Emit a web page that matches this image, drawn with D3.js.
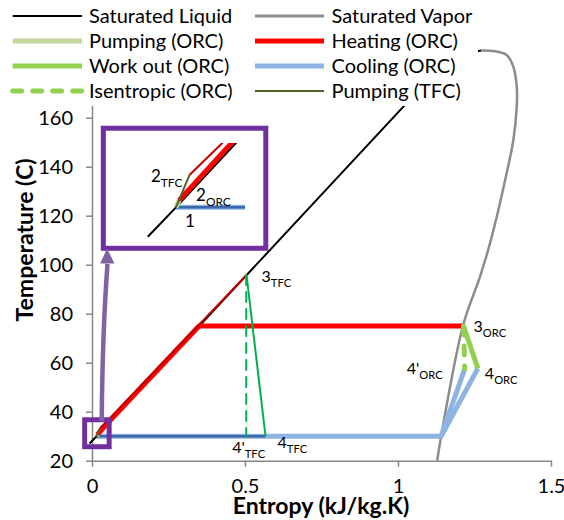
<!DOCTYPE html>
<html>
<head>
<meta charset="utf-8">
<script src="https://cdn.jsdelivr.net/npm/d3@7"></script>
<style>
  body { margin: 0; background: #fff; }
  text { font-family: Lato, "Open Sans", sans-serif; fill: #000; }
</style>
</head>
<body>
<div id="chart"></div>
<script>
// T-s diagram data (entropy kJ/kg.K, temperature C)
const satLiquid = [[-0.008, 27], [0.015, 30], [1.02, 164.8], [1.2, 184.5], [1.25, 186.9], [1.272, 187.4]]
const satVapor = [[1.272, 187.4], [1.311, 187.2], [1.355, 185.6], [1.377, 180.8], [1.388, 172.7], [1.388, 164.5],
                  [1.377, 150.9], [1.355, 137.3], [1.328, 122.3], [1.301, 108.9], [1.268, 95.1], [1.213, 75.4],
                  [1.141, 30], [1.128, 20]]
const pumpingORC = [[0.015, 30], [0.0175, 30.7]]
const heatingORC = [[0.0175, 30.7], [0.065, 37.2], [0.35, 75], [1.214, 75]]
const workORC = [[1.214, 75], [1.261, 57.7]]
const isentropicORC = [[1.214, 75], [1.218, 57.5]]
const coolingORC = [[1.261, 57.7], [1.141, 30], [0.015, 30]]
const coolingORCisen = [[1.218, 57.5], [1.141, 30]]
const pumpingTFC = [[0.015, 30], [0.026, 33.3]]
const heatingTFC = [[0.026, 33.3], [0.0523, 36.5], [0.505, 95.8]]
const expansionTFC = [[0.505, 95.8], [0.567, 30]]
const isentropicTFC = [[0.504, 95.8], [0.504, 30]]
const coolingTFC = [[0.567, 30], [0.015, 30]]

const xTicks = [0, 0.5, 1, 1.5]
const yTicks = [20, 40, 60, 80, 100, 120, 140, 160, 180, 200]

// point labels: [name, subscript, s, T]
const pointLabels = [
  ["3", "TFC", 0.505, 95.8],
  ["3", "ORC", 1.214, 75],
  ["4", "ORC", 1.261, 57.7],
  ["4'", "ORC", 1.218, 57.5],
  ["4'", "TFC", 0.504, 30],
  ["4", "TFC", 0.567, 30]
]
const insetLabels = [
  ["2", "TFC", 0.026, 33.3],
  ["2", "ORC", 0.0175, 30.7],
  ["1", "", 0.015, 30]
]

// zoom window around point 1 and the inset it is blown up into
const zoomBoxS = [-0.024, 0.056], zoomBoxT = [25.7, 36.7]
const insetBoxS = [0.037, 0.568], insetBoxT = [106.7, 155.7]
const insetDomainS = [-0.0103, 0.0714], insetDomainT = [26.77, 36.57]

const legendItems = [
  ["Saturated Liquid", "#000000", 2, null],
  ["Saturated Vapor", "#8c8c8c", 3, null],
  ["Pumping (ORC)", "#c3d69b", 5, null],
  ["Heating (ORC)", "#ff0000", 5, null],
  ["Work out (ORC)", "#92d050", 5, null],
  ["Cooling (ORC)", "#8db4e2", 5, null],
  ["Isentropic (ORC)", "#92d050", 5, "9,11"],
  ["Pumping (TFC)", "#4f6228", 2, null]
]

const W = 564, H = 520
const svg = d3.select("#chart").append("svg").attr("width", W).attr("height", H)

const x = d3.scaleLinear().domain([0, 1.5]).range([92, 551])
const y = d3.scaleLinear().domain([20, 200]).range([460.7, 19.7])

const line = d3.line().x(d => x(d[0])).y(d => y(d[1]))
const smooth = d3.line().x(d => x(d[0])).y(d => y(d[1])).curve(d3.curveCatmullRom)

// axes
const axisColor = "#868686"
const xAxis = svg.append("g").attr("transform", `translate(0,${y(20)})`)
  .call(d3.axisBottom(x).tickValues(xTicks).tickFormat(d3.format("")).tickSizeInner(6).tickSizeOuter(0).tickPadding(12))
const yAxis = svg.append("g").attr("transform", `translate(${x(0)},0)`)
  .call(d3.axisLeft(y).tickValues(yTicks).tickSizeInner(6).tickSizeOuter(0).tickPadding(13))
for (const g of [xAxis, yAxis]) {
  g.select(".domain").attr("stroke", axisColor).attr("stroke-width", 1.5)
  g.selectAll(".tick line").attr("stroke", axisColor).attr("stroke-width", 1.5)
  g.selectAll(".tick text").style("font-size", "20px").style("font-family", "Lato, sans-serif").attr("fill", "#000")
}

function drawCycle(g, ln, lnSmooth) {
  const path = (data, color, width, dash, gen) => g.append("path")
    .attr("d", (gen || ln)(data)).attr("fill", "none").attr("stroke", color)
    .attr("stroke-width", width).attr("stroke-linejoin", "round")
    .attr("stroke-linecap", dash ? "round" : "butt").attr("stroke-dasharray", dash)
  path(satVapor, "#8c8c8c", 2.5, null, lnSmooth)
  path(coolingORC, "#8db4e2", 5)
  path(coolingORCisen, "#8db4e2", 5)
  path(coolingTFC, "#3a68a8", 2.5)
  path(satLiquid, "#000000", 2)
  path(heatingORC, "#ff0000", 5)
  path(heatingTFC, "#c00000", 2)
  path(pumpingORC, "#c3d69b", 5)
  path(pumpingTFC, "#4f6228", 2)
  path(workORC, "#92d050", 5)
  path(isentropicORC, "#92d050", 5, "9,11")
  path(expansionTFC, "#00b050", 2)
  path(isentropicTFC, "#00b050", 2, "10,7")
}

drawCycle(svg.append("g"), line, smooth)

function subLabel(g, px, py, main, sub, anchor, size) {
  const t = g.append("text").attr("x", px).attr("y", py).attr("text-anchor", anchor)
    .style("font-size", size + "px")
  t.append("tspan").text(main)
  if (sub) t.append("tspan").attr("dy", size * 0.3).style("font-size", (size * 0.7) + "px").text(sub)
}

// point labels around the main chart
const labelOffsets = [[15, 7], [10, 6], [7, 11], [-22, 5], [-14, 17], [12, 12]]
const labelAnchors = ["start", "start", "start", "end", "start", "start"]
pointLabels.forEach((p, i) => {
  subLabel(svg, x(p[2]) + labelOffsets[i][0], y(p[3]) + labelOffsets[i][1], p[0], p[1], labelAnchors[i], 16)
})

// zoom box near point 1
const purple = "#7030a0"
svg.append("rect")
  .attr("x", x(zoomBoxS[0])).attr("y", y(zoomBoxT[1]))
  .attr("width", x(zoomBoxS[1]) - x(zoomBoxS[0])).attr("height", y(zoomBoxT[0]) - y(zoomBoxT[1]))
  .attr("fill", "none").attr("stroke", purple).attr("stroke-width", 5)

// inset box
svg.append("rect")
  .attr("x", x(insetBoxS[0])).attr("y", y(insetBoxT[1]))
  .attr("width", x(insetBoxS[1]) - x(insetBoxS[0])).attr("height", y(insetBoxT[0]) - y(insetBoxT[1]))
  .attr("fill", "#fff").attr("stroke", purple).attr("stroke-width", 5)

// inset: blown-up view around point 1
const xi = d3.scaleLinear().domain(insetDomainS).range([145, 245])
const yi = d3.scaleLinear().domain(insetDomainT).range([239, 143])
svg.append("clipPath").attr("id", "insetClip").append("rect")
  .attr("x", 145).attr("y", 143).attr("width", 100).attr("height", 96)
const inset = svg.append("g").attr("clip-path", "url(#insetClip)")
drawCycle(inset, d3.line().x(d => xi(d[0])).y(d => yi(d[1])),
  d3.line().x(d => xi(d[0])).y(d => yi(d[1])).curve(d3.curveCatmullRom))
const insetOffsets = [[-7, 7], [17, 0], [9, 20]]
const insetAnchors = ["end", "start", "start"]
insetLabels.forEach((p, i) => {
  subLabel(svg, xi(p[2]) + insetOffsets[i][0], yi(p[3]) + insetOffsets[i][1], p[0], p[1], insetAnchors[i], 17)
})

// curved arrow from zoom box up to the inset
const arrowColor = "#8064a2"
const a0 = [x(0.0317), y(36.0)], ac = [x(0.0343), y(73.3)], a1 = [x(0.0507), y(100.3)], tip = [x(0.0493), y(106.6)]
svg.append("path")
  .attr("d", `M${a0[0]},${a0[1]} Q${ac[0]},${ac[1]} ${a1[0]},${a1[1]}`)
  .attr("fill", "none").attr("stroke", arrowColor).attr("stroke-width", 4.5)
svg.append("path")
  .attr("d", `M${tip[0]},${tip[1]} L${tip[0] + 7.5},${tip[1] + 15} L${tip[0] - 7},${tip[1] + 15} Z`)
  .attr("fill", arrowColor)

// legend (white box sitting over the top of the plot)
svg.append("rect").attr("x", 0).attr("y", 0).attr("width", 478).attr("height", 106).attr("fill", "#fff")
const legCols = [[12.7, 82, 89], [255, 324, 331.5]]
legendItems.forEach((d, i) => {
  const c = legCols[i % 2], ry = 16 + Math.floor(i / 2) * 25
  svg.append("line").attr("x1", c[0]).attr("x2", c[1]).attr("y1", ry).attr("y2", ry)
    .attr("stroke", d[1]).attr("stroke-width", d[2])
    .attr("stroke-linecap", d[3] ? "round" : "butt").attr("stroke-dasharray", d[3])
  svg.append("text").attr("x", c[2]).attr("y", ry).attr("dy", "0.35em")
    .style("font-size", "20px").text(d[0])
})

// axis titles
svg.append("text").attr("x", 321).attr("y", 514).attr("text-anchor", "middle")
  .style("font-size", "23px").style("font-weight", "bold").text("Entropy (kJ/kg.K)")
svg.append("text").attr("transform", "translate(33,240) rotate(-90)").attr("text-anchor", "middle")
  .style("font-size", "23px").style("font-weight", "bold").text("Temperature (C)")
</script>
</body>
</html>
